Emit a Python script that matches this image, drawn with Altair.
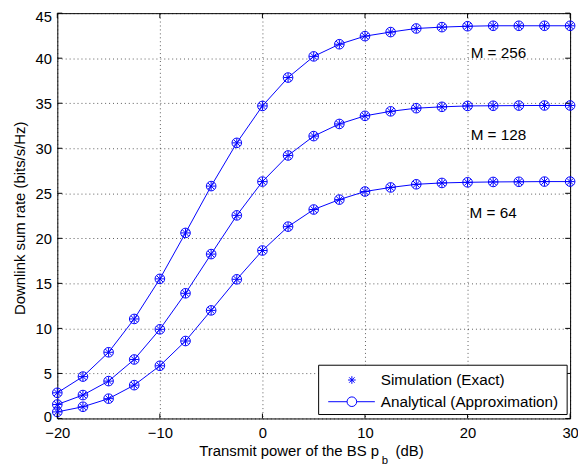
import altair as alt
import pandas as pd

# ---- data ----
x_db = [-20, -17.5, -15, -12.5, -10, -7.5, -5, -2.5, 0, 2.5, 5, 7.5, 10,
        12.5, 15, 17.5, 20, 22.5, 25, 27.5, 30]
rate_m256 = [2.85, 4.65, 7.35, 11.05, 15.5, 20.6, 25.8, 30.6, 34.7, 37.85, 40.2,
             41.55, 42.45, 42.9, 43.3, 43.45, 43.55, 43.6, 43.6, 43.6, 43.6]
rate_m128 = [1.55, 2.6, 4.15, 6.55, 9.9, 13.9, 18.25, 22.55, 26.3, 29.2, 31.35,
             32.7, 33.6, 34.1, 34.45, 34.6, 34.7, 34.72, 34.74, 34.75, 34.75]
rate_m64 = [0.73, 1.3, 2.2, 3.7, 5.85, 8.6, 12.0, 15.45, 18.65, 21.3, 23.2,
            24.3, 25.2, 25.65, 26.0, 26.15, 26.22, 26.26, 26.28, 26.3, 26.3]
series_names = ["M = 256", "M = 128", "M = 64"]

x_ticks = [-20, -10, 0, 10, 20, 30]
y_ticks = [0, 5, 10, 15, 20, 25, 30, 35, 40, 45]

label_text = ["M = 256", "M = 128", "M = 64"]
label_x = [20.3, 20.3, 20.2]
label_y = [40.6, 31.5, 22.85]

legend_labels = ["Simulation (Exact)", "Analytical (Approximation)"]

x_title = "Transmit power of the BS p"
x_title_sub = "b"
x_title_end = "(dB)"
y_title = "Downlink sum rate (bits/s/Hz)"

# ---- build tables ----
rows = []
for name, vals in zip(series_names, [rate_m256, rate_m128, rate_m64]):
    for xv, yv in zip(x_db, vals):
        rows.append({"x": xv, "rate": yv, "M": name})
df = pd.DataFrame(rows)

W, H = 520, 411
BLUE = "#0000ff"
FONT = "Liberation Sans"
ASTERISK = ("M-1,0L1,0M0,-1L0,1M-0.7071,-0.7071L0.7071,0.7071"
            "M-0.7071,0.7071L0.7071,-0.7071")

xscale = alt.Scale(domain=[-20, 30], nice=False, zero=False)
yscale = alt.Scale(domain=[0, 45], nice=False, zero=False)

xaxis = alt.Axis(values=x_ticks, ticks=False, tickSize=0, domain=False, grid=True,
                 gridDash=[1, 3], gridColor="#000", gridOpacity=0.65,
                 labelFont=FONT, labelFontSize=15, labelColor="black",
                 labelPadding=7, labelFlush=False, title=None)
yaxis = alt.Axis(values=y_ticks, ticks=False, tickSize=0, domain=False, grid=True,
                 gridDash=[1, 3], gridColor="#000", gridOpacity=0.65,
                 labelFont=FONT, labelFontSize=15, labelColor="black",
                 labelPadding=6, title=None,
                 labelOffset={"condition": {"test": "datum.value == 45", "value": 3},
                              "value": {"expr": "0"}} if False else
                 {"condition": [{"test": "datum.value == 45", "value": 3},
                                {"test": "datum.value == 0", "value": -2}],
                  "value": 0})

base = alt.Chart(df)

lines = base.mark_line(color=BLUE, strokeWidth=1).encode(
    x=alt.X("x:Q", scale=xscale, axis=xaxis),
    y=alt.Y("rate:Q", scale=yscale, axis=yaxis),
    detail="M:N",
)
circles = base.mark_point(shape="circle", size=95, filled=False, color=BLUE,
                          strokeWidth=1, opacity=1).encode(
    x=alt.X("x:Q", scale=xscale), y=alt.Y("rate:Q", scale=yscale))
stars = base.mark_point(shape=ASTERISK, size=85, filled=False, color=BLUE,
                        strokeWidth=1, opacity=1).encode(
    x=alt.X("x:Q", scale=xscale), y=alt.Y("rate:Q", scale=yscale))

labels = alt.Chart(pd.DataFrame({"t": label_text, "x": label_x, "y": label_y})).mark_text(
    align="left", baseline="middle", font=FONT, fontSize=15.5, color="black"
).encode(x=alt.X("x:Q", scale=xscale), y=alt.Y("y:Q", scale=yscale), text="t:N")

# inward ticks on all four sides
xt = pd.DataFrame({"v": x_ticks})
yt = pd.DataFrame({"v": y_ticks})
tick_bottom = alt.Chart(xt).mark_rule(color="black", strokeWidth=1).encode(
    x=alt.X("v:Q", scale=xscale), y=alt.value(H), y2=alt.value(H - 5))
tick_top = alt.Chart(xt).mark_rule(color="black", strokeWidth=1).encode(
    x=alt.X("v:Q", scale=xscale), y=alt.value(0), y2=alt.value(5))
tick_left = alt.Chart(yt).mark_rule(color="black", strokeWidth=1).encode(
    y=alt.Y("v:Q", scale=yscale), x=alt.value(0), x2=alt.value(5))
tick_right = alt.Chart(yt).mark_rule(color="black", strokeWidth=1).encode(
    y=alt.Y("v:Q", scale=yscale), x=alt.value(W), x2=alt.value(W - 5))

# legend box
one = pd.DataFrame({"k": [0]})
leg_box = alt.Chart(one).mark_rect(fill="white", stroke="black", strokeWidth=1).encode(
    x=alt.value(265), x2=alt.value(517), y=alt.value(357), y2=alt.value(407))
leg_star = alt.Chart(one).mark_point(shape=ASTERISK, size=60, filled=False, color=BLUE,
                                     strokeWidth=1, opacity=1).encode(
    x=alt.value(298.7), y=alt.value(372))
leg_line = alt.Chart(one).mark_rule(color=BLUE, strokeWidth=1).encode(
    x=alt.value(274.7), x2=alt.value(322), y=alt.value(394))
leg_circ = alt.Chart(one).mark_point(shape="circle", size=95, filled=False, color=BLUE,
                                     fill="white", strokeWidth=1, opacity=1).encode(
    x=alt.value(298.7), y=alt.value(394))
leg_t1 = alt.Chart(pd.DataFrame({"t": [legend_labels[0]]})).mark_text(
    align="left", baseline="middle", font=FONT, fontSize=15.5, color="black").encode(
    x=alt.value(328), y=alt.value(372), text="t:N")
leg_t2 = alt.Chart(pd.DataFrame({"t": [legend_labels[1]]})).mark_text(
    align="left", baseline="middle", font=FONT, fontSize=15.5, color="black").encode(
    x=alt.value(328), y=alt.value(394), text="t:N")

# axis titles
xt1 = alt.Chart(pd.DataFrame({"t": [x_title]})).mark_text(
    align="left", baseline="alphabetic", font=FONT, fontSize=15.1, color="black").encode(
    x=alt.value(144), y=alt.value(449), text="t:N")
xt2 = alt.Chart(pd.DataFrame({"t": [x_title_sub]})).mark_text(
    align="left", baseline="alphabetic", font=FONT, fontSize=11.5, color="black").encode(
    x=alt.value(329), y=alt.value(457), text="t:N")
xt3 = alt.Chart(pd.DataFrame({"t": [x_title_end]})).mark_text(
    align="left", baseline="alphabetic", font=FONT, fontSize=15.1, color="black").encode(
    x=alt.value(343), y=alt.value(449), text="t:N")
yt1 = alt.Chart(pd.DataFrame({"t": [y_title]})).mark_text(
    align="center", baseline="middle", angle=270, font=FONT, fontSize=15.1,
    color="black").encode(
    x=alt.value(-38), y=alt.value(208), text="t:N")

chart = alt.layer(
    lines, circles, stars, labels,
    tick_bottom, tick_top, tick_left, tick_right,
    leg_box, leg_star, leg_line, leg_circ, leg_t1, leg_t2,
    xt1, xt2, xt3, yt1,
).properties(
    width=W, height=H,
    autosize=alt.AutoSizeParams(type="none"),
    padding={"left": 50, "top": 2, "right": 8, "bottom": 48},
).configure_view(stroke="black", strokeWidth=1)

chart.save("out.html", embed_options={"renderer": "svg", "actions": False})
